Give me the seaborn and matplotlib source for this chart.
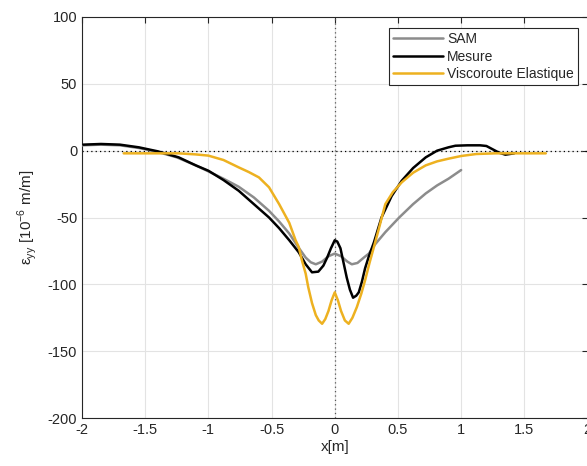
import matplotlib
matplotlib.use("Agg")
import matplotlib.pyplot as plt
import seaborn as sns
import pandas as pd

# ---- data ----
sam_x = [-2.0, -1.85, -1.7, -1.55, -1.4, -1.25, -1.1, -1.0, -0.88, -0.76, -0.64, -0.52, -0.44,
         -0.36, -0.29, -0.23, -0.19, -0.15, -0.1, -0.05, 0.0, 0.05, 0.1, 0.135, 0.18, 0.23,
         0.27, 0.32, 0.4, 0.51, 0.62, 0.72, 0.81, 0.9, 1.0]
sam_y = [4, 4.5, 4, 2, -1, -5, -11, -15.5, -21, -27, -35, -45, -53,
         -62, -72, -80, -83.5, -85, -83, -79, -77, -79, -83, -85, -84, -80,
         -77, -70, -61, -50, -40, -32, -26, -21, -14.5]

mes_x = [-1.99, -1.85, -1.7, -1.55, -1.4, -1.235, -1.1, -1.0, -0.88, -0.76, -0.64, -0.52, -0.44,
         -0.36, -0.285, -0.23, -0.18, -0.13, -0.09, -0.06, -0.03, 0.0, 0.02, 0.045, 0.07,
         0.095, 0.12, 0.145, 0.17, 0.19, 0.215, 0.24, 0.27, 0.31, 0.37, 0.45, 0.53, 0.62,
         0.72, 0.81, 0.9, 0.955, 1.05, 1.15, 1.2, 1.25, 1.3, 1.35, 1.42]
mes_y = [4.5, 5, 4.5, 2.5, -0.5, -5, -11, -15, -22, -30, -40, -50, -58,
         -67, -76, -85, -91, -90.5, -86, -80, -73, -67, -68, -73, -84,
         -95, -104, -110, -108.5, -106, -98, -88, -79, -68.6, -50, -34, -22.5, -13,
         -5, 0, 2.5, 3.7, 4, 4, 3.5, 1, -1.5, -3, -2]

vis_x = [-1.67, -1.4, -1.235, -1.1, -1.0, -0.88, -0.76, -0.68, -0.6, -0.52, -0.44, -0.36, -0.31,
         -0.285, -0.26, -0.23, -0.21, -0.18, -0.15, -0.127, -0.1, -0.075, -0.05, -0.025, 0.0,
         0.025, 0.05, 0.08, 0.11, 0.14, 0.175, 0.21, 0.24, 0.275, 0.31, 0.35, 0.4, 0.46,
         0.53, 0.62, 0.72, 0.81, 0.9, 1.0, 1.12, 1.27, 1.45, 1.67]
vis_y = [-2, -2, -2, -2.8, -3.7, -7, -12.5, -16, -20, -27.4, -40, -54, -67,
         -72, -82, -92, -102, -114, -123, -127, -129.5, -126, -120, -112, -106,
         -112, -120, -127, -129.5, -125, -117, -107, -97, -84, -72, -58, -40, -31,
         -23.7, -16.5, -11, -8, -6, -4, -2.5, -2, -2, -2]

series_names = ["SAM", "Mesure", "Viscoroute Elastique"]
colors = ["#8c8c8c", "#000000", "#EDB120"]
x_ticks = [-2, -1.5, -1, -0.5, 0, 0.5, 1, 1.5, 2]
y_ticks = [-200, -150, -100, -50, 0, 50, 100]

df = pd.concat([
    pd.DataFrame({"x": sam_x, "y": sam_y, "serie": series_names[0]}),
    pd.DataFrame({"x": mes_x, "y": mes_y, "serie": series_names[1]}),
    pd.DataFrame({"x": vis_x, "y": vis_y, "serie": series_names[2]}),
], ignore_index=True)

sns.set_style("white")
plt.rcParams["font.family"] = ["Liberation Sans", "DejaVu Sans"]
plt.rcParams["axes.unicode_minus"] = False
plt.rcParams["lines.solid_joinstyle"] = "round"
plt.rcParams["lines.solid_capstyle"] = "round"
txt = "#262626"

fig = plt.figure(figsize=(5.87, 4.66), dpi=100)
ax = fig.add_axes([82 / 587, 48 / 466, 505.5 / 587, 401 / 466])

ax.axhline(0, color="black", ls=(0, (1, 2.5)), lw=0.9, zorder=1.5)
ax.axvline(0, color="#555555", ls=(0, (1, 2.5)), lw=0.9, zorder=1.5)

sns.lineplot(data=df, x="x", y="y", hue="serie", hue_order=series_names,
             palette=colors, estimator=None, sort=False, lw=1.8, ax=ax, zorder=3)

ax.set_xlim(-2, 2)
ax.set_ylim(-200, 100)
ax.set_xticks(x_ticks)
ax.set_xticklabels([f"{t:g}" for t in x_ticks])
ax.set_yticks(y_ticks)
ax.set_yticklabels([f"{t:g}" for t in y_ticks])
ax.grid(True, color="#e3e3e3", lw=0.8, zorder=0)
ax.set_axisbelow(True)
for s in ax.spines.values():
    s.set_color(txt)
    s.set_linewidth(0.8)
ax.tick_params(direction="in", length=4, width=0.8, top=True, right=True,
               colors=txt, labelsize=10.5, labelcolor=txt)
ax.set_xlabel("x[m]", fontsize=11, color=txt, labelpad=2)
ax.set_ylabel(r"ε$_{\mathregular{yy}}$ [10$^{\mathregular{-6}}$ m/m]", fontsize=11, color=txt, labelpad=6)

leg = ax.legend(loc="upper right", bbox_to_anchor=(578 / 587, 1 - 28 / 466),
                bbox_transform=fig.transFigure, frameon=True, fancybox=False,
                fontsize=10, handlelength=3.6, borderpad=0.3, labelspacing=0.25,
                handletextpad=0.3, borderaxespad=0)
leg.get_frame().set_edgecolor(txt)
leg.get_frame().set_linewidth(0.8)
leg.get_frame().set_alpha(1)

fig.savefig("out.png", dpi=100)
